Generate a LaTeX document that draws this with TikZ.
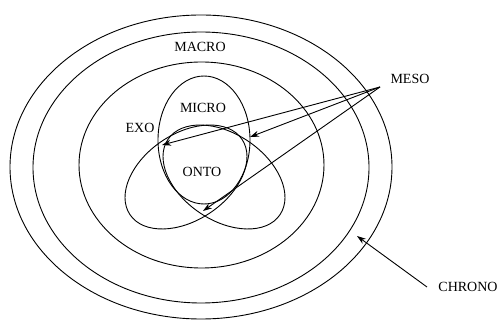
\documentclass[tikz,border=0pt]{standalone}
\usepackage{fontspec}
\setmainfont{Liberation Serif}
\usetikzlibrary{arrows.meta}
\begin{document}
\begin{tikzpicture}[x=1pt,y=-1pt,
  ring/.style={draw,line width=0.9pt},
  lbl/.style={font=\fontsize{14}{16}\selectfont, inner sep=0pt},
  arr/.style={-{Stealth[length=9pt,width=6pt]}, line width=0.9pt}]
\useasboundingbox[fill=white] (0,0) rectangle (499,320);
% concentric rings
\draw[ring] (201,167) ellipse [x radius=191, y radius=152];
\draw[ring] (201,167.5) ellipse [x radius=168, y radius=135.5];
\draw[ring] (201.5,165) ellipse [x radius=122.5, y radius=103];
% trefoil
\draw[ring] (204,140) ellipse [x radius=46, y radius=64];
\draw[ring, rotate around={33.9:(186,177)}] (186,177) ellipse [x radius=67.5, y radius=43.2];
\draw[ring, rotate around={-33.9:(224,177)}] (224,177) ellipse [x radius=67.5, y radius=43.2];
% labels
\node[lbl] (macro) at (200,47) {MACRO};
\node[lbl] (meso) at (410,79) {MESO};
\node[lbl] (micro) at (203,108) {MICRO};
\node[lbl] (exo) at (140,128) {EXO};
\node[lbl] (onto) at (202,172) {ONTO};
\node[lbl] (chrono) at (468,287) {CHRONO};
% arrows
\coordinate (mesoTail) at (380,87);
\coordinate (tipA) at (162,145);
\coordinate (tipB) at (250,137);
\coordinate (tipC) at (203,211);
\coordinate (chronoTail) at (427,287);
\coordinate (chronoTip) at (357,236);
\draw[arr] (mesoTail) -- (tipA);
\draw[arr] (mesoTail) -- (tipB);
\draw[arr] (mesoTail) -- (tipC);
\draw[arr] (chronoTail) -- (chronoTip);
\end{tikzpicture}
\end{document}
